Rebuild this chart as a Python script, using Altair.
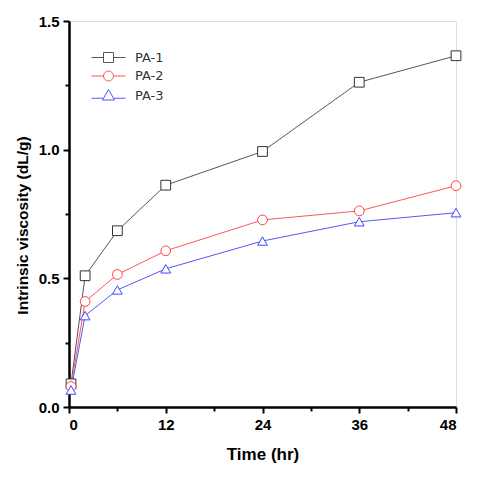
import altair as alt
import pandas as pd

time_hr = [0.25, 2, 6, 12, 24, 36, 48]
pa1 = [0.09, 0.51, 0.685, 0.862, 0.993, 1.262, 1.365]
pa2 = [0.08, 0.41, 0.515, 0.607, 0.727, 0.762, 0.86]
pa3 = [0.066, 0.355, 0.455, 0.537, 0.645, 0.72, 0.755]
series_names = ["PA-1", "PA-2", "PA-3"]
line_colors = ["#555555", "#ff5555", "#5555ff"]
marker_colors = ["#333333", "#ff4444", "#4444ff"]
x_ticks = [0, 6, 12, 18, 24, 30, 36, 42, 48]
y_ticks = [0, 0.25, 0.5, 0.75, 1.0, 1.25, 1.5]

rows = []
for name, vals in zip(series_names, [pa1, pa2, pa3]):
    for t, v in zip(time_hr, vals):
        rows.append({"Time": t, "Viscosity": v, "Series": name, "Legend": name})
df = pd.DataFrame(rows)

sq = "M-3.4,0H-1M1,0H3.4M-1,-1H1V1H-1Z"
ci = "M-3.4,0H-1M1,0H3.4M-1,0A1,1 0 1,0 1,0A1,1 0 1,0 -1,0"
tr = "M-3.4,0.55H-1.1M1.1,0.55H3.4M0,-1.2L1.2,0.9H-1.2Z"

x_axis = alt.Axis(
    values=x_ticks,
    labelExpr="datum.value % 12 === 0 ? datum.label : ''",
    title="Time (hr)",
    grid=False,
    domainColor="black", domainWidth=2.5,
    tickColor="black", tickWidth=2,
    tickSize={"condition": {"test": "datum.value % 12 === 0", "value": 6}, "value": 4},
    labelFont="Liberation Sans", labelFontSize=15, labelFontWeight="bold", labelColor="black",
    labelPadding=4,
    titleFont="Liberation Sans", titleFontSize=17, titleFontWeight="bold", titleColor="black",
    titlePadding=14,
)
y_axis = alt.Axis(
    values=y_ticks,
    labelExpr="(datum.value * 2) % 1 === 0 ? format(datum.value, '.1f') : ''",
    title="Intrinsic viscosity (dL/g)",
    grid=False,
    domainColor="black", domainWidth=2.5,
    tickColor="black", tickWidth=2,
    tickSize={"condition": {"test": "(datum.value * 2) % 1 === 0", "value": 6}, "value": 4},
    labelFont="Liberation Sans", labelFontSize=15, labelFontWeight="bold", labelColor="black",
    labelPadding=4,
    titleFont="Liberation Sans", titleFontSize=15.5, titleFontWeight="bold", titleColor="black",
    titlePadding=8,
    titleY=204,
)

x_enc = alt.X("Time:Q", scale=alt.Scale(domain=[0, 48], nice=False, zero=False), axis=x_axis)
y_enc = alt.Y("Viscosity:Q", scale=alt.Scale(domain=[0, 1.5], nice=False), axis=y_axis)

legend = alt.Legend(
    title=None,
    orient="none",
    legendX=33,
    legendY=30,
    symbolSize=100,
    symbolStrokeWidth=1,
    symbolFillColor="transparent",
    symbolOpacity=1,
    labelFont="DejaVu Sans",
    labelFontSize=13,
    labelColor="#333333",
    labelOffset=20,
    rowPadding=3.5,
    padding=0,
)

lines = alt.Chart(df).mark_line(strokeWidth=1).encode(
    x=x_enc, y=y_enc,
    color=alt.Color("Series:N", scale=alt.Scale(domain=series_names, range=line_colors), legend=None),
)
points = alt.Chart(df).mark_point(filled=True, fill="white", strokeWidth=1, size=95, opacity=1).encode(
    x=x_enc, y=y_enc,
    stroke=alt.Stroke("Series:N", scale=alt.Scale(domain=series_names, range=marker_colors), legend=None),
    shape=alt.Shape("Series:N", scale=alt.Scale(domain=series_names, range=["square", "circle", "triangle-up"]), legend=None),
)
legend_layer = alt.Chart(df).transform_filter("false").mark_point(size=100, strokeWidth=1).encode(
    x=x_enc, y=y_enc,
    stroke=alt.Stroke("Legend:N", scale=alt.Scale(domain=series_names, range=line_colors), legend=legend),
    shape=alt.Shape("Legend:N", scale=alt.Scale(domain=series_names, range=[sq, ci, tr]), legend=legend),
)

chart = alt.layer(lines, points, legend_layer).resolve_scale(
    shape="independent", stroke="independent"
).properties(
    width=387, height=386,
    autosize=alt.AutoSizeParams(type="none"),
    padding={"left": 61, "top": 13, "right": 20, "bottom": 70},
).configure_view(stroke="black", strokeWidth=2.5).configure(background="white")

chart.save("out.html", embed_options={"renderer": "svg", "actions": False})
